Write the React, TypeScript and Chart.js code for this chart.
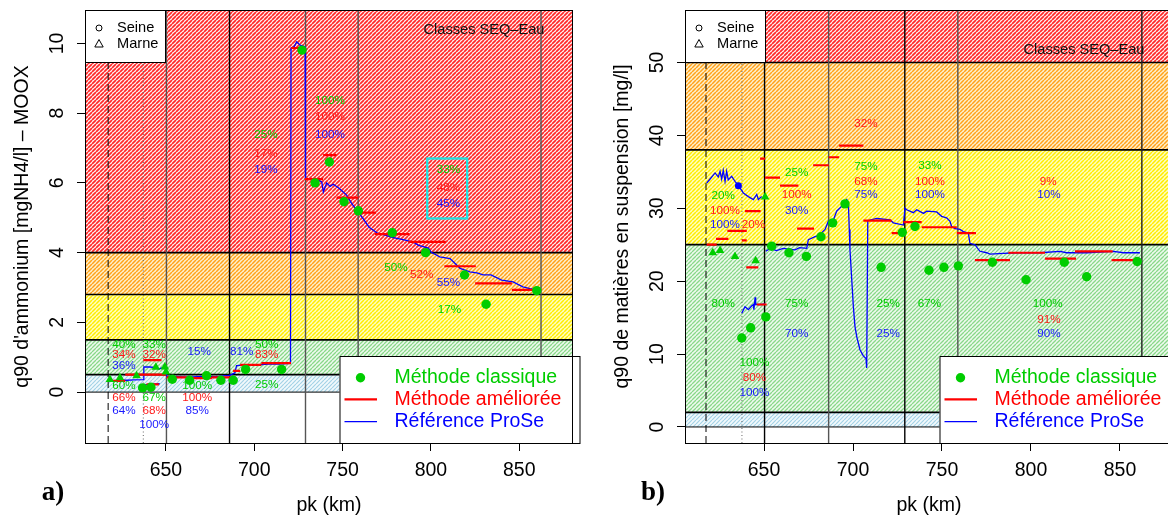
import React, { useEffect, useRef } from 'react';
import { Chart, registerables } from 'chart.js';

Chart.register(...registerables);

type Pt = [number, number];
type Seg = [number, number, number];
type Score = [number, number, string, 'g' | 'r' | 'b'];

// ================= Panel a) : q90 ammonium =================
const A_X_RANGE = [604.2, 880.4];
const A_Y_RANGE = [-1.46, 10.96];
const A_X_TICKS = [650, 700, 750, 800, 850];
const A_Y_TICKS = [0, 2, 4, 6, 8, 10];
const A_CLASS_BREAKS = [0, 0.5, 1.5, 2.8, 4];
const A_STATIONS = [650.3, 686, 729, 758.8, 862.3];
const A_LIMITS = [617.3, 637.2];
const A_SEINE_PK = [636.8, 641.5, 653.6, 663.4, 673.0, 681.1, 688.1, 695.1, 715.5, 727.0, 734.4, 742.5, 750.8, 758.9, 778.1, 797.0, 819.0, 831.2, 859.9];
const A_SEINE_Q90 = [0.12, 0.14, 0.37, 0.34, 0.47, 0.34, 0.34, 0.65, 0.65, 9.81, 6.0, 6.6, 5.46, 5.2, 4.57, 4.0, 3.36, 2.52, 2.91];
const A_MARNE_PK = [618.3, 624.0, 633.4, 644.3, 649.4, 650.0];
const A_MARNE_Q90 = [0.36, 0.41, 0.47, 0.71, 0.72, 0.58];
const A_IMPROVED: Seg[] = [
  [617.0, 627.0, 0.32], [627.0, 650.0, 0.5], [637.2, 647.5, 0.92], [639.0, 646.0, 0.22],
  [650.4, 662.0, 0.42], [662.0, 676.0, 0.4], [676.0, 688.0, 0.42], [688.0, 692.0, 0.61],
  [692.0, 704.0, 0.78], [704.0, 720.8, 0.83], [720.8, 727.0, 9.87], [728.7, 739.0, 6.11],
  [739.0, 746.6, 6.8], [746.6, 759.0, 5.58], [759.0, 769.0, 5.15], [768.3, 787.8, 4.53],
  [787.2, 808.4, 4.31], [807.6, 825.4, 3.61], [825.0, 845.8, 3.12], [845.8, 858.0, 2.93],
];
const A_PROSE_SEINE: Pt[] = [
  [616.8, 0.32], [620, 0.33], [624, 0.34], [628, 0.34], [632, 0.35], [637.2, 0.36], [637.5, 0.72],
  [641, 0.72], [644, 0.7], [646, 0.66], [648, 0.7], [650, 0.66], [650.4, 0.45], [656, 0.44],
  [662, 0.43], [668, 0.44], [674, 0.44], [680, 0.45], [686, 0.48], [689, 0.55], [690, 0.76],
  [696, 0.78], [702, 0.78], [708, 0.8], [714, 0.8], [720.5, 0.82], [720.8, 9.87], [722.5, 9.9],
  [724, 10.05], [726, 9.95], [728.8, 9.9], [729, 6.13], [731, 6.12], [733, 6.1], [734.5, 5.95],
  [736.3, 6.08], [738.2, 6.03], [739.1, 5.74], [741, 6.0], [742.9, 5.9], [744.7, 5.96], [748, 5.85],
  [752.3, 5.65], [755, 5.42], [758.7, 5.17], [762, 4.95], [765, 4.73], [770, 4.55], [774, 4.5],
  [778, 4.44], [785.5, 4.36], [790, 4.3], [793, 4.21], [798.6, 4.13], [800, 4.02], [805, 3.88],
  [810.8, 3.83], [816.5, 3.55], [822, 3.45], [826, 3.42], [829.5, 3.36], [834, 3.36], [840, 3.21],
  [846.5, 3.16], [852, 3.02], [856, 2.97], [860, 2.93],
];
const A_PROSE_MARNE: Pt[] = [[637.5, 0.21], [641, 0.22], [646.5, 0.24]];
const A_PROSE_MARKS: Pt[] = [];
const A_SCORES: Score[] = [
  [706.6, 7.37, '25%', 'g'], [706.6, 6.85, '17%', 'r'], [706.6, 6.37, '19%', 'b'],
  [742.9, 8.37, '100%', 'g'], [742.9, 7.89, '100%', 'r'], [742.9, 7.37, '100%', 'b'],
  [809.9, 6.37, '33%', 'g'], [809.9, 5.85, '48%', 'r'], [809.9, 5.39, '45%', 'b'],
  [780.2, 3.58, '50%', 'g'], [794.8, 3.36, '52%', 'r'], [809.9, 3.15, '55%', 'b'], [810.4, 2.35, '17%', 'g'],
  [626.2, 1.37, '40%', 'g'], [626.2, 1.06, '34%', 'r'], [626.2, 0.75, '36%', 'b'],
  [626.2, 0.17, '60%', 'g'], [626.2, -0.16, '66%', 'r'], [626.2, -0.54, '64%', 'b'],
  [643.4, 1.37, '33%', 'g'], [643.4, 1.06, '32%', 'r'],
  [643.4, -0.16, '67%', 'g'], [643.4, -0.54, '68%', 'r'], [643.4, -0.93, '100%', 'b'],
  [668.9, 1.16, '15%', 'b'],
  [667.7, 0.17, '100%', 'g'], [667.7, -0.16, '100%', 'r'], [667.7, -0.54, '85%', 'b'],
  [692.9, 1.16, '81%', 'b'], [707.0, 1.37, '50%', 'g'], [707.0, 1.06, '83%', 'r'], [707.0, 0.22, '25%', 'g'],
];
const A_FOCUS_BOX = [797.9, 820.5, 4.98, 6.7];
const A_Y_TITLE = "q90 d'ammonium [mgNH4/l] \u2013 MOOX";
const A_LETTER = 'a)';

// ================= Panel b) : q90 MES =================
const B_X_RANGE = [605.6, 879.8];
const B_Y_RANGE = [-2.2, 57.2];
const B_X_TICKS = [650, 700, 750, 800, 850];
const B_Y_TICKS = [0, 10, 20, 30, 40, 50];
const B_CLASS_BREAKS = [0, 2, 25, 38, 50];
const B_STATIONS = [650.3, 686.3, 729.1, 758.9, 862.3];
const B_LIMITS = [617.4, 637.6];
const B_SEINE_PK = [637.5, 642.5, 651.0, 654.3, 664.0, 673.8, 682.0, 688.6, 695.5, 715.8, 727.7, 734.8, 742.7, 751.1, 759.2, 778.3, 797.2, 818.7, 831.3, 859.7];
const B_SEINE_Q90 = [12.2, 13.6, 15.1, 24.8, 23.9, 23.4, 26.1, 28.0, 30.6, 21.9, 26.7, 27.5, 21.5, 21.9, 22.1, 22.6, 20.2, 22.6, 20.6, 22.7];
const B_MARNE_PK = [621.2, 625.3, 633.7, 645.3, 650.6];
const B_MARNE_Q90 = [23.9, 24.2, 23.4, 22.8, 31.55];
const B_IMPROVED: Seg[] = [
  [617.8, 623.4, 25.0], [623.0, 630.0, 25.8], [629.4, 640.3, 26.9], [639.3, 648.1, 29.6], [647.8, 650.6, 36.8],
  [637.5, 640.3, 25.6], [640.0, 646.8, 21.9], [645.9, 651.5, 16.8],
  [650.6, 659.0, 34.2], [659.0, 669.3, 33.1], [668.6, 678.1, 27.2], [677.6, 686.4, 35.9],
  [686.4, 692.2, 37.0], [692.2, 705.8, 38.6], [705.8, 721.7, 28.3], [721.7, 728.3, 26.6],
  [728.3, 738.6, 28.1], [738.6, 758.3, 27.4], [758.3, 769.1, 26.6], [768.5, 788.2, 22.9],
  [787.3, 807.9, 23.9], [807.9, 825.3, 23.1], [824.7, 845.9, 24.1], [845.3, 859.4, 22.9],
];
const B_PROSE_SEINE_UP: Pt[] = [
  [617.8, 33.47], [619.7, 34.02], [622.5, 34.85], [624.3, 34.3], [625.3, 35.07], [626.2, 34.0],
  [627.1, 35.2], [628.1, 33.7], [629.0, 35.07], [629.9, 33.9], [631.8, 34.4], [633.7, 33.7],
  [635.6, 33.1], [638.4, 32.1], [641.2, 31.6], [644.0, 31.2], [645.9, 31.9], [646.8, 31.2], [648.7, 31.6],
];
const B_PROSE_SEINE_DOWN: Pt[] = [
  [651.0, 24.1], [653.4, 24.5], [657, 24.2], [660.8, 24.5], [664, 24.4], [667.4, 24.3], [670, 24.6],
  [674, 24.5], [674.9, 25.7], [678.7, 26.1], [681, 26.3], [684.3, 27.1], [686.1, 28.2], [689, 28.4],
  [690.8, 29.6], [693.7, 30.3], [696.5, 31.2], [697.4, 30.7], [697.9, 27.1], [698.3, 24.3],
  [699.3, 20.2], [700.2, 16.5], [701.1, 13.8], [702.1, 12.4], [703.9, 10.6], [705.8, 9.75],
  [707.3, 9.4], [707.7, 8.1], [708.3, 28.3], [713.3, 28.6], [720.8, 28.4], [722.7, 28.0],
  [728.3, 27.7], [729.2, 30.0], [730.2, 29.8], [733.9, 29.4], [735.8, 29.8], [739.6, 29.3],
  [741.4, 29.6], [747, 29.5], [749.8, 28.9], [752.6, 28.7], [754.5, 28.2], [755.4, 27.5],
  [757.3, 27.2], [760.1, 27.1], [762, 26.8], [764.8, 26.6], [765.7, 25.2], [768.5, 25.0],
  [771.3, 24.1], [775.1, 23.9], [777, 23.7], [784.4, 23.8], [793.8, 23.9], [805, 23.9],
  [816.3, 24.1], [820, 23.9], [831.3, 23.9], [846.3, 24.1], [852, 23.9], [861.2, 23.9],
];
const B_PROSE_MARNE: Pt[] = [
  [637.5, 15.6], [639.3, 16.5], [641.2, 16.1], [643.0, 16.6], [644.0, 16.8], [644.3, 16.1],
  [645.0, 17.8], [645.3, 16.8], [648.7, 16.8], [650.5, 16.9],
];
const B_PROSE_MARKS: Pt[] = [[635.6, 33.1]];
const B_SCORES: Score[] = [
  [707.3, 41.6, '32%', 'r'],
  [668.4, 34.85, '25%', 'g'], [668.4, 31.87, '100%', 'r'], [668.4, 29.7, '30%', 'b'],
  [627.1, 31.7, '20%', 'g'], [628.1, 29.7, '100%', 'r'], [628.1, 27.75, '100%', 'b'], [644.0, 27.75, '20%', 'r'],
  [707.3, 35.75, '75%', 'g'], [707.3, 33.7, '68%', 'r'], [707.3, 31.8, '75%', 'b'],
  [743.3, 35.85, '33%', 'g'], [743.3, 33.7, '100%', 'r'], [743.3, 31.8, '100%', 'b'],
  [809.7, 33.7, '9%', 'r'], [810.1, 31.8, '10%', 'b'],
  [627.1, 16.85, '80%', 'g'], [668.4, 16.85, '75%', 'g'], [668.4, 12.73, '70%', 'b'],
  [644.6, 8.75, '100%', 'g'], [644.6, 6.77, '80%', 'r'], [644.6, 4.71, '100%', 'b'],
  [719.8, 16.85, '25%', 'g'], [719.8, 12.73, '25%', 'b'],
  [742.9, 16.85, '67%', 'g'],
  [809.4, 16.85, '100%', 'g'], [810.1, 14.7, '91%', 'r'], [810.1, 12.73, '90%', 'b'],
];
const B_Y_TITLE = 'q90 de mati\u00e8res en suspension [mg/l]';
const B_LETTER = 'b)';

const LEGEND_LABELS = ['M\u00e9thode classique', 'M\u00e9thode am\u00e9lior\u00e9e', 'R\u00e9f\u00e9rence ProSe'];
const RIVER_LABELS = ['Seine', 'Marne'];
const CLASSES_LABEL = 'Classes SEQ\u2013Eau';

// ================= styles =================
const GREEN = '#00cd00';
const RED = '#ff0000';
const BLUE = '#0000ff';
const SCORE_COLORS: Record<string, string> = { g: '#00cd00', r: '#ff1a1a', b: '#1a1aff' };
const SANS = '"Liberation Sans", Arial, Helvetica, sans-serif';
const HATCH_STYLES = [
  { bg: '#f2f9fc', fg: '#a3d2e6', size: 4, lw: 1.2 },
  { bg: '#eefaee', fg: '#88d888', size: 4, lw: 1.3 },
  { bg: '#ffffc0', fg: '#ffec00', size: 4, lw: 1.5 },
  { bg: '#fff0cc', fg: '#ffa21a', size: 4, lw: 1.5 },
  { bg: '#fff2f2', fg: '#ff2828', size: 4, lw: 1.7 },
];

interface Spec {
  xRange: number[]; yRange: number[]; xTicks: number[]; yTicks: number[];
  breaks: number[]; stations: number[]; stationColors: string[]; limits: number[];
  seinePk: number[]; seineQ: number[]; marnePk: number[]; marneQ: number[];
  improved: Seg[]; prose: Pt[][]; marks: Pt[]; scores: Score[]; focus: number[] | null;
  yTitle: string; letter: string;
  canvasWidth: number; areaLeft: number; areaRight: number; titlePad: number; classesDy: number;
}

function makePattern(ctx: CanvasRenderingContext2D, st: { bg: string; fg: string; size: number; lw: number }) {
  const c = document.createElement('canvas');
  c.width = st.size; c.height = st.size;
  const g = c.getContext('2d')!;
  g.fillStyle = st.bg; g.fillRect(0, 0, st.size, st.size);
  g.strokeStyle = st.fg; g.lineWidth = st.lw;
  g.beginPath();
  for (const k of [-1, 0, 1]) {
    g.moveTo(k * st.size, st.size);
    g.lineTo(k * st.size + st.size, 0);
  }
  g.stroke();
  return ctx.createPattern(c, 'repeat')!;
}

function buildConfig(s: Spec): any {
  const toPts = (pk: number[], q: number[]) => pk.map((x, i) => ({ x, y: q[i] }));
  const segData = s.improved.flatMap(([a, b, v]) => [{ x: a, y: v }, { x: b, y: v }, { x: b, y: null }]);
  const lineData = s.prose.flatMap((l) => [...l.map(([x, y]) => ({ x, y })), { x: l[l.length - 1][0], y: null }]);

  const bgPlugin = {
    id: 'bands',
    beforeDatasetsDraw(chart: any) {
      const { ctx, chartArea: ca, scales: { x, y } } = chart;
      ctx.save();
      ctx.beginPath(); ctx.rect(ca.left, ca.top, ca.right - ca.left, ca.bottom - ca.top); ctx.clip();
      s.breaks.forEach((lo, i) => {
        const hi = s.breaks[i + 1];
        const yb = y.getPixelForValue(lo);
        const yt = hi === undefined ? ca.top : y.getPixelForValue(hi);
        ctx.fillStyle = makePattern(ctx, HATCH_STYLES[i]);
        ctx.fillRect(ca.left, yt, ca.right - ca.left, yb - yt);
      });
      ctx.strokeStyle = '#000';
      s.breaks.forEach((v, i) => {
        const py = y.getPixelForValue(v);
        ctx.lineWidth = i === 0 ? 1 : 1.7;
        ctx.beginPath(); ctx.moveTo(ca.left, py); ctx.lineTo(ca.right, py); ctx.stroke();
      });
      s.stations.forEach((pk, i) => {
        const px = x.getPixelForValue(pk);
        ctx.strokeStyle = s.stationColors[i]; ctx.lineWidth = 1.4;
        ctx.beginPath(); ctx.moveTo(px, ca.top); ctx.lineTo(px, ca.bottom); ctx.stroke();
      });
      const xd = x.getPixelForValue(s.limits[0]);
      ctx.strokeStyle = '#000'; ctx.lineWidth = 1; ctx.setLineDash([7, 4]);
      ctx.beginPath(); ctx.moveTo(xd, ca.bottom); ctx.lineTo(xd, ca.top); ctx.stroke();
      const xo = x.getPixelForValue(s.limits[1]);
      ctx.strokeStyle = '#666'; ctx.setLineDash([1, 2.5]);
      ctx.beginPath(); ctx.moveTo(xo, ca.bottom); ctx.lineTo(xo, ca.top); ctx.stroke();
      ctx.setLineDash([]);
      ctx.restore();
    },
  };

  const fgPlugin = {
    id: 'annotations',
    afterDatasetsDraw(chart: any) {
      const { ctx, chartArea: ca, scales: { x, y } } = chart;
      ctx.save();
      if (s.focus) {
        const [x0, x1, y0, y1] = s.focus;
        ctx.strokeStyle = '#1ee3e3'; ctx.lineWidth = 2.3;
        ctx.strokeRect(x.getPixelForValue(x0), y.getPixelForValue(y1),
          x.getPixelForValue(x1) - x.getPixelForValue(x0), y.getPixelForValue(y0) - y.getPixelForValue(y1));
      }
      ctx.font = `11.7px ${SANS}`;
      ctx.textAlign = 'center'; ctx.textBaseline = 'middle';
      for (const [pk, v, t, c] of s.scores) {
        ctx.fillStyle = SCORE_COLORS[c];
        ctx.fillText(t, x.getPixelForValue(pk), y.getPixelForValue(v));
      }
      // Classes label
      ctx.font = `14.6px ${SANS}`; ctx.fillStyle = '#111';
      ctx.fillText(CLASSES_LABEL, ca.right - 89, ca.top + s.classesDy);
      // river legend
      ctx.fillStyle = '#fff'; ctx.strokeStyle = '#000'; ctx.lineWidth = 1;
      ctx.fillRect(ca.left, ca.top, 80, 52); ctx.strokeRect(ca.left + 0.5, ca.top + 0.5, 80, 52);
      ctx.lineWidth = 1;
      ctx.beginPath(); ctx.arc(ca.left + 14, ca.top + 18, 3, 0, Math.PI * 2); ctx.stroke();
      ctx.beginPath();
      ctx.moveTo(ca.left + 14, ca.top + 29.5); ctx.lineTo(ca.left + 18.2, ca.top + 37); ctx.lineTo(ca.left + 9.8, ca.top + 37); ctx.closePath(); ctx.stroke();
      ctx.fillStyle = '#000'; ctx.textAlign = 'left'; ctx.font = `14.6px ${SANS}`;
      ctx.fillText(RIVER_LABELS[0], ca.left + 32, ca.top + 18);
      ctx.fillText(RIVER_LABELS[1], ca.left + 32, ca.top + 34);
      // method legend
      const bl = ca.right - 233.5, bt = ca.bottom - 87;
      ctx.fillStyle = '#fff'; ctx.fillRect(bl, bt, 233.5, 87);
      ctx.strokeStyle = '#000'; ctx.strokeRect(bl + 0.5, bt + 0.5, 240, 87);
      const rows = [ca.bottom - 65.3, ca.bottom - 43.7, ca.bottom - 21.3];
      ctx.fillStyle = GREEN; ctx.beginPath(); ctx.arc(bl + 21, rows[0], 4.7, 0, Math.PI * 2); ctx.fill();
      ctx.strokeStyle = RED; ctx.lineWidth = 2.2; ctx.beginPath(); ctx.moveTo(bl + 5, rows[1]); ctx.lineTo(bl + 37.5, rows[1]); ctx.stroke();
      ctx.strokeStyle = BLUE; ctx.lineWidth = 1.2; ctx.beginPath(); ctx.moveTo(bl + 5, rows[2]); ctx.lineTo(bl + 37.5, rows[2]); ctx.stroke();
      ctx.font = `19.5px ${SANS}`; ctx.textAlign = 'left';
      [GREEN, RED, BLUE].forEach((c, i) => { ctx.fillStyle = c; ctx.fillText(LEGEND_LABELS[i], bl + 55, rows[i]); });
      // plot box
      ctx.strokeStyle = '#000'; ctx.lineWidth = 1;
      ctx.strokeRect(ca.left + 0.5, ca.top + 0.5, ca.right - ca.left - 1, ca.bottom - ca.top);
      // panel letter
      ctx.font = `bold 27px "Liberation Serif", "Times New Roman", serif`;
      ctx.fillStyle = '#000'; ctx.textAlign = 'center';
      ctx.fillText(s.letter, ca.left - 32, ca.bottom + 50);
      ctx.restore();
    },
  };

  return {
    type: 'scatter',
    data: {
      datasets: [
        { label: 'Seine', data: toPts(s.seinePk, s.seineQ), pointStyle: 'circle', pointRadius: 4.7, pointBackgroundColor: GREEN, pointBorderWidth: 0, order: 0 },
        { label: 'Marne', data: toPts(s.marnePk, s.marneQ), pointStyle: 'triangle', pointRadius: 5, pointBackgroundColor: GREEN, pointBorderWidth: 0, order: 0 },
        { label: LEGEND_LABELS[1], data: segData, showLine: true, spanGaps: false, borderColor: RED, borderWidth: 2.2, pointRadius: 0, order: 1 },
        { label: LEGEND_LABELS[2], data: lineData, showLine: true, spanGaps: false, borderColor: BLUE, borderWidth: 1.3, pointRadius: 0, order: 2 },
        { label: 'marks', data: s.marks.map(([x, y]) => ({ x, y })), pointRadius: 3.5, pointBackgroundColor: BLUE, pointBorderWidth: 0, order: 2 },
      ],
    },
    options: {
      animation: false,
      responsive: false,
      events: [],
      layout: { padding: { left: 0, right: s.canvasWidth - s.areaRight, top: 10, bottom: 0 } },
      plugins: { legend: { display: false }, tooltip: { enabled: false } },
      scales: {
        x: {
          type: 'linear', min: s.xRange[0], max: s.xRange[1],
          afterBuildTicks: (sc: any) => { sc.ticks = s.xTicks.map((value) => ({ value })); },
          afterFit: (sc: any) => { sc.height = 72; sc.paddingLeft = 0; sc.paddingRight = 0; },
          grid: { drawOnChartArea: false, tickLength: 8, color: '#000', tickColor: '#000' },
          border: { display: true, color: '#000' },
          ticks: { font: { family: SANS, size: 19.5 }, color: '#000', padding: 8, maxRotation: 0, minRotation: 0, autoSkip: false },
          title: { display: true, text: 'pk (km)', color: '#000', font: { family: SANS, size: 19.5, lineHeight: 1 }, padding: 0 },
        },
        y: {
          type: 'linear', min: s.yRange[0], max: s.yRange[1],
          afterBuildTicks: (sc: any) => { sc.ticks = s.yTicks.map((value) => ({ value })); },
          afterFit: (sc: any) => { sc.width = s.areaLeft; sc.paddingTop = 0; sc.paddingBottom = 0; },
          grid: { drawOnChartArea: false, tickLength: 8, color: '#000', tickColor: '#000' },
          border: { display: true, color: '#000' },
          ticks: { font: { family: SANS, size: 19.5 }, color: '#000', padding: 9, minRotation: 90, maxRotation: 90, crossAlign: 'center', autoSkip: false },
          title: { display: true, text: s.yTitle, color: '#000', font: { family: SANS, size: 19.5, lineHeight: 1 }, padding: { top: s.titlePad, bottom: 0 } },
        },
      },
    },
    plugins: [bgPlugin, fgPlugin],
  };
}

const SPEC_A: Spec = {
  xRange: A_X_RANGE, yRange: A_Y_RANGE, xTicks: A_X_TICKS, yTicks: A_Y_TICKS,
  breaks: A_CLASS_BREAKS, stations: A_STATIONS, stationColors: ['#555', '#000', '#555', '#555', '#555'], limits: A_LIMITS,
  seinePk: A_SEINE_PK, seineQ: A_SEINE_Q90, marnePk: A_MARNE_PK, marneQ: A_MARNE_Q90,
  improved: A_IMPROVED, prose: [A_PROSE_SEINE, A_PROSE_MARNE], marks: A_PROSE_MARKS, scores: A_SCORES, focus: A_FOCUS_BOX,
  yTitle: A_Y_TITLE, letter: A_LETTER,
  canvasWidth: 584, areaLeft: 85, areaRight: 573, titlePad: 13.3, classesDy: 20,
};

const SPEC_B: Spec = {
  xRange: B_X_RANGE, yRange: B_Y_RANGE, xTicks: B_X_TICKS, yTicks: B_Y_TICKS,
  breaks: B_CLASS_BREAKS, stations: B_STATIONS, stationColors: ['#000', '#555', '#000', '#555', '#222'], limits: B_LIMITS,
  seinePk: B_SEINE_PK, seineQ: B_SEINE_Q90, marnePk: B_MARNE_PK, marneQ: B_MARNE_Q90,
  improved: B_IMPROVED, prose: [B_PROSE_SEINE_UP, B_PROSE_SEINE_DOWN, B_PROSE_MARNE], marks: B_PROSE_MARKS, scores: B_SCORES, focus: null,
  yTitle: B_Y_TITLE, letter: B_LETTER,
  canvasWidth: 600, areaLeft: 101, areaRight: 589, titlePad: 29.3, classesDy: 40,
};

function Panel({ spec, left }: { spec: Spec; left: number }) {
  const ref = useRef<HTMLCanvasElement>(null);
  useEffect(() => {
    const chart = new Chart(ref.current!, buildConfig(spec));
    return () => chart.destroy();
  }, [spec]);
  return (
    <canvas ref={ref} width={spec.canvasWidth} height={515}
      style={{ position: 'absolute', left, top: 0, width: spec.canvasWidth, height: 515 }} />
  );
}

export default function App() {
  return (
    <div style={{ position: 'absolute', left: 0, top: 0, width: 1168, height: 515, overflow: 'hidden', background: '#fff' }}>
      <Panel spec={SPEC_A} left={0} />
      <Panel spec={SPEC_B} left={584} />
    </div>
  );
}
